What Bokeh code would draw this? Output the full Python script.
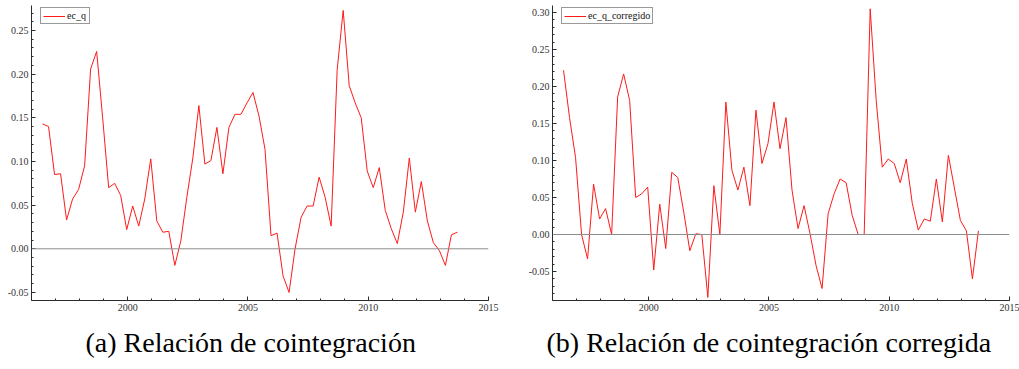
import pandas as pd
from bokeh.plotting import figure
from bokeh.models import (Range1d, Span, Legend, LegendItem, Title,
                          SingleIntervalTicker, NumeralTickFormatter)
from bokeh.layouts import row
from bokeh.embed import file_html
from bokeh.resources import INLINE

# Quarterly observations, 1996Q2 - 2013Q3
quarters = pd.period_range("1996Q2", "2013Q3", freq="Q")

ec_q = [
    0.143, 0.140, 0.085, 0.086, 0.033, 0.057, 0.068, 0.095, 0.206, 0.226,
    0.150, 0.070, 0.075, 0.061, 0.022, 0.049, 0.026, 0.057, 0.103, 0.032,
    0.019, 0.020, -0.019, 0.009, 0.059, 0.104, 0.164, 0.097, 0.101, 0.139,
    0.086, 0.139, 0.154, 0.154, 0.167, 0.179, 0.152, 0.114, 0.015, 0.018,
    -0.031, -0.050, 0.000, 0.036, 0.049, 0.049, 0.082, 0.059, 0.026, 0.205,
    0.273, 0.187, 0.167, 0.150, 0.089, 0.070, 0.093, 0.044, 0.023, 0.006,
    0.042, 0.104, 0.042, 0.077, 0.032, 0.007, -0.002, -0.019, 0.016, 0.019,
]

ec_q_corregido = [
    0.222, 0.158, 0.104, 0.000, -0.033, 0.068, 0.021, 0.035, 0.000, 0.186,
    0.217, 0.181, 0.050, 0.055, 0.064, -0.048, 0.041, -0.019, 0.084, 0.077,
    0.030, -0.022, 0.001, 0.000, -0.085, 0.066, 0.000, 0.179, 0.087, 0.060,
    0.091, 0.039, 0.168, 0.096, 0.123, 0.179, 0.116, 0.158, 0.060, 0.008,
    0.039, 0.001, -0.042, -0.073, 0.028, 0.055, 0.075, 0.070, 0.026, 0.000,
    0.000, 0.305, 0.181, 0.091, 0.102, 0.096, 0.070, 0.102, 0.042, 0.006,
    0.021, 0.018, 0.075, 0.017, 0.107, 0.063, 0.019, 0.005, -0.060, 0.005,
]

# each quarter placed at the middle of its last month, in decimal years
x_years = [p.year + (3 * p.quarter - 0.5) / 12 for p in quarters]

AXIS_COLOR = "#2b2b2b"
TICK_FONT = "Liberation Serif"


def make_panel(values, name, caption, y_lo, y_hi, width, border_left,
               border_right, caption_offset):
    p = figure(width=width, height=369,
               x_range=Range1d(1996, 2015), y_range=Range1d(y_lo, y_hi),
               output_backend="svg", toolbar_location=None,
               min_border_left=border_left, min_border_right=border_right,
               min_border_top=5, min_border_bottom=69)
    p.outline_line_color = None
    p.xgrid.visible = False
    p.ygrid.visible = False

    p.xaxis.ticker = SingleIntervalTicker(interval=5, num_minor_ticks=5)
    p.yaxis.ticker = SingleIntervalTicker(interval=0.05, num_minor_ticks=5)
    p.yaxis.formatter = NumeralTickFormatter(format="0.00")
    for ax in (p.xaxis, p.yaxis):
        ax.axis_line_color = AXIS_COLOR
        ax.major_tick_line_color = AXIS_COLOR
        ax.minor_tick_line_color = AXIS_COLOR
        ax.major_tick_in = 4
        ax.major_tick_out = 0
        ax.minor_tick_in = 2
        ax.minor_tick_out = 0
        ax.major_label_standoff = 3
        ax.major_label_text_font = TICK_FONT
        ax.major_label_text_font_size = "10px"
        ax.major_label_text_color = "#333333"

    p.add_layout(Span(location=0, dimension="width",
                      line_color="#8c8c8c", line_width=1))

    r = p.line(x_years, values, line_color="#ff1a1a", line_width=1)

    legend = Legend(items=[LegendItem(label=name, renderers=[r])],
                    location=(9, 276), margin=0, padding=2, spacing=0,
                    glyph_width=22, glyph_height=10, label_height=10,
                    label_standoff=2, label_text_font=TICK_FONT,
                    label_text_font_size="10px", label_text_color="#111111",
                    border_line_color="#333333", border_line_width=1,
                    background_fill_color="white", background_fill_alpha=1)
    p.add_layout(legend)

    p.add_layout(Title(text=caption, align="left", offset=caption_offset,
                       standoff=23,
                       text_font="Liberation Serif", text_font_size="28px",
                       text_font_style="normal", text_color="#000000"),
                 "below")
    return p


left = make_panel(ec_q, "ec_q", "(a) Relación de cointegración",
                  -0.0592, 0.2786, 510, 31, 22, 54)
right = make_panel(ec_q_corregido, "ec_q_corregido",
                   "(b) Relación de cointegración corregida",
                   -0.0892, 0.3095, 509, 42, 10, -6)

layout = row(left, right)
open("out.html", "w").write(file_html(layout, INLINE))
